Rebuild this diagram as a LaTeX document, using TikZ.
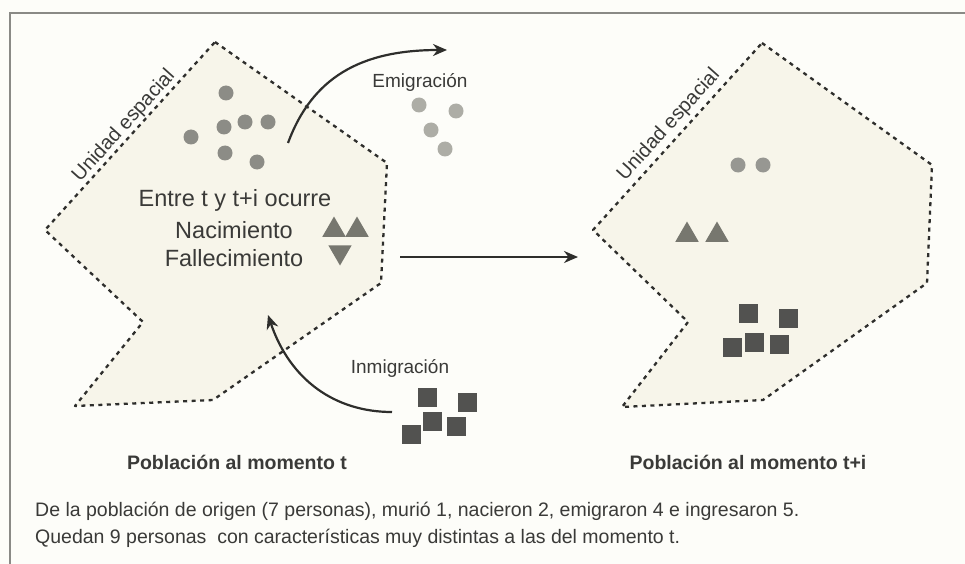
\documentclass[tikz,border=0pt]{standalone}
\usepackage{fontspec}
\setmainfont{Liberation Sans}
\usetikzlibrary{arrows.meta,shapes.geometric}
\definecolor{bgc}{HTML}{FDFDF9}
\definecolor{framec}{HTML}{8A8A86}
\definecolor{zonec}{HTML}{F7F5EA}
\definecolor{edgec}{HTML}{2E2E2C}
\definecolor{txtc}{HTML}{3A3A38}
\definecolor{dotc}{HTML}{8C8C86}
\definecolor{emdotc}{HTML}{ADADA6}
\definecolor{tric}{HTML}{77776F}
\definecolor{sqc}{HTML}{525250}
\tikzset{
  zone/.style={fill=zonec, draw=edgec, line width=2.3pt, dash pattern=on 4pt off 4.5pt, line join=round},
  dot/.style={circle, fill=dotc, minimum size=15pt, inner sep=0pt},
  emdot/.style={circle, fill=emdotc, minimum size=15pt, inner sep=0pt},
  uptri/.style={regular polygon, regular polygon sides=3, fill=tric, minimum size=27pt, inner sep=0pt},
  downtri/.style={uptri, shape border rotate=180},
  sqbox/.style={rectangle, fill=sqc, minimum size=19pt, inner sep=0pt},
  lbl/.style={text=txtc, font=\fontsize{19}{22}\selectfont, inner sep=0pt},
  big/.style={text=txtc, font=\fontsize{23.5}{27}\selectfont, inner sep=0pt},
  unid/.style={text=txtc, font=\fontsize{20}{23}\selectfont, inner sep=0pt, rotate=48},
  ttl/.style={text=txtc, font=\fontsize{19.5}{23}\selectfont\bfseries, inner sep=0pt},
  note/.style={text=txtc, font=\fontsize{19.5}{23}\selectfont, inner sep=0pt, anchor=west},
  flow/.style={draw=edgec, line width=2.2pt, -{Stealth[length=14pt,width=12pt]}}
}
\begin{document}
\begin{tikzpicture}[x=1pt,y=-1pt]
\useasboundingbox (0,0) rectangle (965,564);
\fill[bgc] (0,0) rectangle (965,564);
\draw[framec, line width=1.5pt] (10,564) -- (10,13) -- (965,13);

% left zone
\draw[zone] (215,42) -- (387,163) -- (381,283) -- (213,400) -- (75,406) -- (143,322) -- (45,230) -- cycle;
% right zone
\draw[zone] (762,43) -- (932,165) -- (927,283) -- (763,400) -- (622,407) -- (688,322) -- (593,230) -- cycle;

\node[unid] (u1) at (124,126) {Unidad espacial};
\node[unid] (u2) at (669,125) {Unidad espacial};

% left population
\node[dot] (d1) at (226,93) {};
\node[dot] (d2) at (191,137) {};
\node[dot] (d3) at (224,127) {};
\node[dot] (d4) at (245,122) {};
\node[dot] (d5) at (268,122) {};
\node[dot] (d6) at (225,153) {};
\node[dot] (d7) at (257,162) {};

\node[big] (t1) at (235,200) {Entre t y t+i ocurre};
\node[big] (t2) at (234,230) {Nacimiento};
\node[big] (t3) at (234,258) {Fallecimiento};
\node[uptri] (a1) at (334,230) {};
\node[uptri] (a2) at (357,230) {};
\node[downtri] (a3) at (340,252) {};

% emigration
\node[lbl] (em) at (420,82) {Emigración};
\node[emdot] (e1) at (419,105) {};
\node[emdot] (e2) at (456,111) {};
\node[emdot] (e3) at (431,130) {};
\node[emdot] (e4) at (445,149) {};
\coordinate (emS) at (288,143);
\coordinate (emE) at (447,50);
\draw[flow] (emS) .. controls (312,78) and (360,50) .. (emE);

% immigration
\node[lbl] (im) at (400,368) {Inmigración};
\node[sqbox] (s1) at (427,397) {};
\node[sqbox] (s2) at (467,402) {};
\node[sqbox] (s3) at (432,421) {};
\node[sqbox] (s4) at (456,426) {};
\node[sqbox] (s5) at (411,434) {};
\coordinate (imS) at (392,412);
\coordinate (imE) at (268,315);
\draw[flow] (imS) .. controls (335,412) and (290,380) .. (imE);

% main transition
\coordinate (mS) at (400,257);
\coordinate (mE) at (578,257);
\draw[flow] (mS) -- (mE);

% right population
\node[dot, fill=dotc!90] (r1) at (738,165) {};
\node[dot, fill=dotc!90] (r2) at (763,165) {};
\node[uptri] (ra1) at (687,235) {};
\node[uptri] (ra2) at (717,235) {};
\node[sqbox] (rs1) at (748,313) {};
\node[sqbox] (rs2) at (788,318) {};
\node[sqbox] (rs3) at (754,342) {};
\node[sqbox] (rs4) at (779,344) {};
\node[sqbox] (rs5) at (732,347) {};

\node[ttl] (p1) at (237,462) {Población al momento t};
\node[ttl] (p2) at (748,462) {Población al momento t+i};

\node[note] (n1) at (35,511) {De la población de origen (7 personas), murió 1, nacieron 2, emigraron 4 e ingresaron 5.};
\node[note] (n2) at (35,538) {Quedan 9 personas\ \ con características muy distintas a las del momento t.};
\end{tikzpicture}
\end{document}
